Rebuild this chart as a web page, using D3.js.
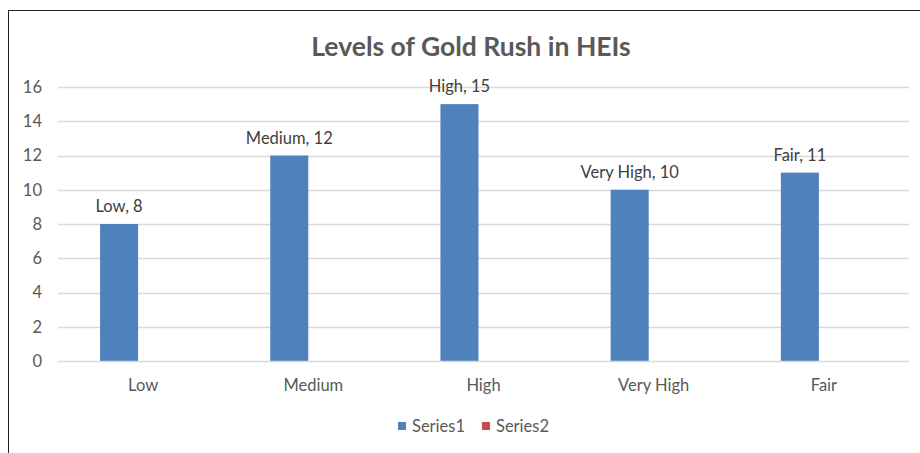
<!DOCTYPE html>
<html>
<head>
<meta charset="utf-8">
<script src="https://cdn.jsdelivr.net/npm/d3@7/dist/d3.min.js"></script>
<style>
  html, body { margin: 0; padding: 0; background: #fff; }
  svg { display: block; }
  text { font-family: Lato, "Open Sans", sans-serif; }
</style>
</head>
<body>
<svg id="chart" width="920" height="453"></svg>
<script>
// Chart data
const categories = ["Low", "Medium", "High", "Very High", "Fair"];
const series1 = [8, 12, 15, 10, 11];
const series2 = [null, null, null, null, null];
const seriesNames = ["Series1", "Series2"];
const seriesColors = ["#4F81BD", "#C0504D"];
const yTicks = [0, 2, 4, 6, 8, 10, 12, 14, 16];

const svg = d3.select("#chart");
const W = 920, H = 453;
const plot = { left: 58, right: 909, top: 87, bottom: 361 };
const labelSize = 16.5;

// Outer frame of the chart area
svg.append("rect")
  .attr("x", 8.5).attr("y", 10.5)
  .attr("width", W).attr("height", H)
  .attr("fill", "#fff").attr("stroke", "#222").attr("stroke-width", 1);

// Title
svg.append("text")
  .attr("x", 471).attr("y", 56)
  .attr("text-anchor", "middle")
  .attr("font-size", 26.5).attr("font-weight", "bold")
  .attr("fill", "#595959")
  .text("Levels of Gold Rush in HEIs");

const x0 = d3.scaleBand().domain(categories).range([plot.left, plot.right]).padding(0);
const bw = x0.bandwidth();
const x1 = d3.scaleBand().domain(seriesNames)
  .range([bw * 42 / 170, bw * 118 / 170]).padding(0);
const y = d3.scaleLinear().domain([0, 16]).range([plot.bottom, plot.top]);

// Horizontal gridlines
svg.append("g")
  .selectAll("line").data(yTicks.filter(t => t > 0)).join("line")
  .attr("x1", plot.left).attr("x2", plot.right)
  .attr("y1", d => Math.round(y(d)) + 0.5).attr("y2", d => Math.round(y(d)) + 0.5)
  .attr("stroke", "#d9d9d9").attr("stroke-width", 1.5);

// Y axis labels
const yAxis = d3.axisLeft(y).tickValues(yTicks).tickSize(0).tickPadding(0);
const gy = svg.append("g").attr("transform", `translate(${plot.left - 16},0)`).call(yAxis);
gy.select(".domain").remove();
gy.selectAll("text")
  .attr("font-family", "Lato, 'Open Sans', sans-serif")
  .attr("font-size", labelSize).attr("fill", "#595959");

// Bars
const rows = categories.map((c, i) => ({ cat: c, vals: [series1[i], series2[i]] }));
const groups = svg.append("g").selectAll("g").data(rows).join("g")
  .attr("transform", d => `translate(${x0(d.cat)},0)`);
groups.selectAll("rect")
  .data(d => d.vals.map((v, j) => ({ v, s: seriesNames[j], color: seriesColors[j] })).filter(e => e.v != null))
  .join("rect")
  .attr("x", d => x1(d.s))
  .attr("width", x1.bandwidth())
  .attr("y", d => y(d.v))
  .attr("height", d => y(0) - y(d.v))
  .attr("fill", d => d.color);

// Data labels
groups.append("text")
  .attr("x", x1("Series1") + x1.bandwidth() / 2)
  .attr("y", d => y(d.vals[0]) - 12)
  .attr("text-anchor", "middle")
  .attr("font-size", labelSize).attr("fill", "#404040")
  .text(d => `${d.cat}, ${d.vals[0]}`);

// X axis line and labels
const xAxis = d3.axisBottom(x0).tickSize(0).tickPadding(0);
const gx = svg.append("g").attr("transform", `translate(0,${plot.bottom})`).call(xAxis);
gx.select(".domain").attr("stroke", "#d9d9d9").attr("stroke-width", 1.5)
  .attr("d", `M${plot.left},0.5H${plot.right}`);
gx.selectAll("text")
  .attr("font-family", "Lato, 'Open Sans', sans-serif")
  .attr("font-size", labelSize).attr("fill", "#595959")
  .attr("dy", null).attr("y", 30);

// Legend
const legend = svg.append("g").attr("transform", "translate(398,420)");
const legendX = [0, 84];
seriesNames.forEach((name, i) => {
  const g = legend.append("g").attr("transform", `translate(${legendX[i]},0)`);
  g.append("rect").attr("width", 8).attr("height", 8).attr("y", 2).attr("fill", seriesColors[i]);
  g.append("text").attr("x", 14).attr("y", 12)
    .attr("font-size", labelSize).attr("fill", "#595959").text(name);
});
</script>
</body>
</html>
